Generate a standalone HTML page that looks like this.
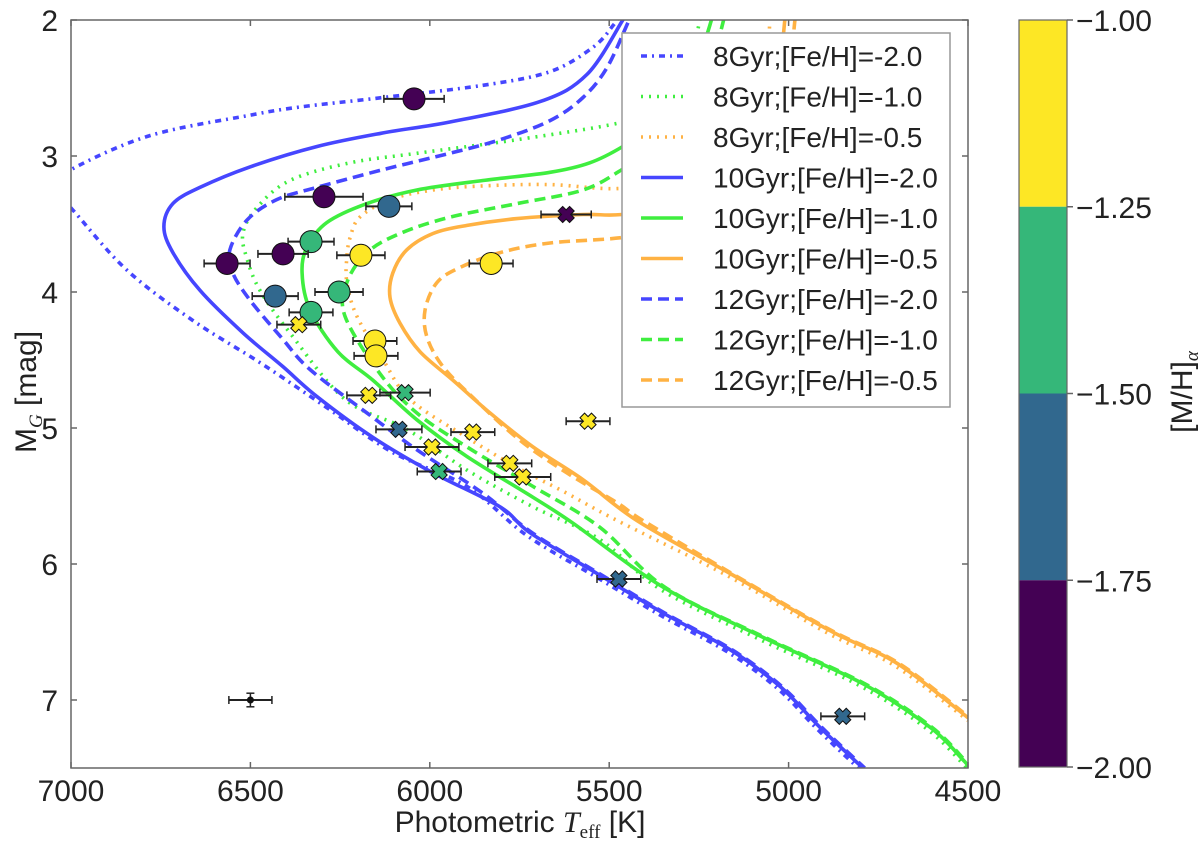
<!DOCTYPE html>
<html><head><meta charset="utf-8"><style>
html,body{margin:0;padding:0;background:#fff;}
svg text{font-family:"Liberation Sans",sans-serif;fill:#222;}
</style></head><body>
<svg id="chart" width="1200" height="849" viewBox="0 0 1200 849" xmlns="http://www.w3.org/2000/svg">
<defs><clipPath id="plotclip"><rect x="71" y="20" width="897" height="748"/></clipPath></defs>
<rect x="0" y="0" width="1200" height="849" fill="#fff"/>
<g id="curves" clip-path="url(#plotclip)"></g>
<g id="points"></g>
<rect x="71" y="20" width="897" height="748" fill="none" stroke="#666" stroke-width="1.5"/>
<g id="xticks"></g>
<g id="yticks"></g>
<text x="520" y="832" font-size="30" text-anchor="middle">Photometric <tspan font-family="Liberation Serif" font-style="italic">T</tspan><tspan font-family="Liberation Serif" font-size="19" dy="6">eff</tspan><tspan dy="-6"> [K]</tspan></text>
<text transform="translate(36,392) rotate(-90)" font-size="30" text-anchor="middle">M<tspan font-family="Liberation Serif" font-style="italic" font-size="19" dy="6">G</tspan><tspan dy="-6"> [mag]</tspan></text>
<g id="legend">
<rect x="622" y="33" width="328" height="374" fill="#fff" stroke="#999" stroke-width="1.5"/>
</g>
<g id="colorbar"></g>
<text transform="translate(1192,392) rotate(-90)" font-size="30" text-anchor="middle">[M/H]<tspan font-family="Liberation Serif" font-style="italic" font-size="19" dy="6">α</tspan></text>
</svg>
<script>
const xTicks=[7000,6500,6000,5500,5000,4500];
const yTicks=[2,3,4,5,6,7];
const cbTicks=[-1.00,-1.25,-1.50,-1.75,-2.00];
const cbColors=['#fde725','#35b779','#31688e','#440154'];
const isoNames=['8Gyr;[Fe/H]=-2.0','8Gyr;[Fe/H]=-1.0','8Gyr;[Fe/H]=-0.5','10Gyr;[Fe/H]=-2.0','10Gyr;[Fe/H]=-1.0','10Gyr;[Fe/H]=-0.5','12Gyr;[Fe/H]=-2.0','12Gyr;[Fe/H]=-1.0','12Gyr;[Fe/H]=-0.5'];
const isoColors=['#4646ff','#3fee3f','#ffb243','#4646ff','#3fee3f','#ffb243','#4646ff','#3fee3f','#ffb243'];
const isoDash=['6,5,2,5','2,6','2,6','none','none','none','11,6','11,6','11,6'];
// Teff arrays
const t8m20=[7100,7000,6780,6501,6362,6130,5852,5665,5545,5489,5470];
const m8m20=[3.30,3.10,2.85,2.70,2.64,2.57,2.48,2.38,2.20,2.04,1.96];
const t8m20b=[7100,6994,6844,6660,6473,6287,6103,5896,5730,5540,5355,5168,5029,4918,4798];
const m8m20b=[3.08,3.40,3.84,4.21,4.52,4.85,5.18,5.43,5.79,6.09,6.38,6.65,6.92,7.22,7.52];
const t8m10=[5247,5261,5303,5386,5478,5757,6036,6222,6390,6482,6521,6509,6473,6390,6236,6064,5896,5712,5526,5355,5076,4798,4611,4500];
const m8m10=[1.99,2.15,2.44,2.66,2.76,2.88,2.98,3.05,3.18,3.38,3.57,3.76,3.99,4.30,4.79,5.01,5.31,5.58,5.82,6.19,6.56,6.90,7.22,7.51];
const t8m05=[5052,5066,5135,5275,5478,5665,5852,5991,6111,6195,6222,6231,6231,6203,6130,6055,5896,5757,5618,5478,5168,4890,4703,4500];
const m8m05=[1.99,2.37,2.88,3.18,3.24,3.21,3.22,3.25,3.32,3.45,3.60,3.74,3.93,4.18,4.50,4.79,5.07,5.29,5.48,5.68,6.09,6.51,6.75,7.15];
const t10m20=[5462,5562,5693,5944,6130,6314,6501,6640,6716,6741,6716,6640,6521,6409,6314,6158,5991,5804,5721,5534,5350,5163,5024,4913,4793];
const m10m20=[2.00,2.40,2.60,2.75,2.83,2.93,3.08,3.23,3.35,3.52,3.71,3.99,4.30,4.55,4.77,5.07,5.33,5.58,5.77,6.07,6.36,6.63,6.90,7.20,7.50];
const t10m10=[5214,5233,5275,5358,5462,5554,5665,5852,6036,6175,6287,6342,6356,6334,6256,6158,6036,5896,5712,5601,5350,5071,4793,4606,4514,4500];
const m10m10=[1.99,2.15,2.44,2.74,2.93,3.05,3.12,3.18,3.25,3.35,3.49,3.67,3.86,4.13,4.44,4.65,4.94,5.21,5.51,5.70,6.17,6.54,6.88,7.20,7.44,7.49];
const t10m05=[5010,5038,5108,5247,5464,5573,5757,5896,5991,6064,6103,6111,6083,6027,5935,5832,5712,5573,5423,5163,4885,4698,4500];
const m10m05=[1.99,2.59,3.10,3.36,3.43,3.43,3.46,3.51,3.57,3.69,3.86,4.04,4.23,4.44,4.65,4.89,5.14,5.38,5.68,6.07,6.49,6.73,7.13];
const t12m20=[5448,5506,5573,5665,5804,5944,6130,6314,6426,6509,6557,6549,6501,6409,6334,6175,6036,5852,5715,5528,5345,5158,5019,4908,4788];
const m12m20=[2.02,2.35,2.57,2.74,2.88,2.98,3.10,3.23,3.32,3.47,3.69,3.86,4.06,4.35,4.57,4.89,5.16,5.48,5.77,6.07,6.36,6.63,6.90,7.20,7.50];
const t12m10=[5180,5205,5261,5358,5464,5573,5757,5944,6083,6175,6231,6236,6139,6036,5896,5712,5526,5345,5066,4788,4601,4500];
const m12m10=[1.99,2.22,2.59,2.92,3.10,3.25,3.35,3.45,3.57,3.71,3.93,4.18,4.60,4.89,5.14,5.43,5.73,6.17,6.54,6.88,7.20,7.47];
const t12m05=[4982,5010,5080,5247,5464,5665,5804,5916,5980,6013,6008,5963,5874,5749,5618,5478,5406,5158,4880,4693,4500];
const m12m05=[1.99,2.59,3.18,3.51,3.60,3.64,3.71,3.82,3.93,4.13,4.33,4.55,4.79,5.09,5.33,5.55,5.68,6.07,6.49,6.73,7.12];
// stars
const circT=[6044,6295,6114,6331,6409,6565,6192,5829,6431,6253,6331,6153,6150];
const circM=[2.58,3.30,3.37,3.63,3.72,3.79,3.73,3.79,4.03,4.00,4.15,4.36,4.47];
const circErr=[84,109,64,64,70,64,67,61,64,67,61,61,61];
const circMH=[-1.9,-1.9,-1.6,-1.4,-1.9,-1.9,-1.1,-1.1,-1.6,-1.4,-1.4,-1.1,-1.1];
const crossT=[5620,6365,6170,6069,6086,5880,5994,5974,5777,5741,5559,5473,4849];
const crossM=[3.43,4.24,4.76,4.74,5.01,5.03,5.14,5.32,5.26,5.36,4.95,6.11,7.12];
const crossErr=[70,61,61,70,64,61,75,61,61,78,61,61,61];
const crossMH=[-1.9,-1.1,-1.1,-1.4,-1.6,-1.1,-1.1,-1.4,-1.1,-1.1,-1.1,-1.6,-1.6];
const refT=[6500], refM=[7.0], refTerr=[60], refMerr=[0.05];

const NS='http://www.w3.org/2000/svg';
const X=t=>71+(7000-t)/2500*897;
const Y=m=>20+(m-2)/5.5*748;
const CBY=v=>20+(-1-v)/1.0*747;
function mk(tag,attrs,parent){const e=document.createElementNS(NS,tag);for(const k in attrs)e.setAttribute(k,attrs[k]);parent.appendChild(e);return e;}
function color(mh){if(mh>=-1.25)return cbColors[0];if(mh>=-1.5)return cbColors[1];if(mh>=-1.75)return cbColors[2];return cbColors[3];}
function smooth(P){
  let d='M'+P[0][0].toFixed(1)+','+P[0][1].toFixed(1);
  for(let i=0;i<P.length-1;i++){
    const p0=P[i-1]||P[i],p1=P[i],p2=P[i+1],p3=P[i+2]||P[i+1];
    const c1=[p1[0]+(p2[0]-p0[0])/6,p1[1]+(p2[1]-p0[1])/6];
    const c2=[p2[0]-(p3[0]-p1[0])/6,p2[1]-(p3[1]-p1[1])/6];
    d+=' C'+c1[0].toFixed(1)+','+c1[1].toFixed(1)+' '+c2[0].toFixed(1)+','+c2[1].toFixed(1)+' '+p2[0].toFixed(1)+','+p2[1].toFixed(1);
  }
  return d;
}

const curves=document.getElementById('curves');
const series=[[[t8m20,m8m20],[t8m20b,m8m20b]],[[t8m10,m8m10]],[[t8m05,m8m05]],[[t10m20,m10m20]],[[t10m10,m10m10]],[[t10m05,m10m05]],[[t12m20,m12m20]],[[t12m10,m12m10]],[[t12m05,m12m05]]];
const order=[2,5,8,1,4,7,0,3,6];
order.forEach(i=>{series[i].forEach(([ts,ms])=>{
  const P=ts.map((t,j)=>[X(t),Y(ms[j])]);
  const p=mk('path',{d:smooth(P),fill:'none',stroke:isoColors[i],'stroke-width':3.6,'stroke-linejoin':'round','stroke-linecap':isoDash[i]==='none'?'round':'butt','stroke-dasharray':isoDash[i]},curves);
  
  
});});

const pts=document.getElementById('points');
function errbar(t,m,e,ye){
  const g=mk('g',{stroke:'#222','stroke-width':2},pts);
  
  
  const x1=X(t+e),x2=X(t-e),y=Y(m);
  mk('line',{x1:x1,y1:y,x2:x2,y2:y},g);
  mk('line',{x1:x1,y1:y-4,x2:x1,y2:y+4,'stroke-width':1.5},g);
  mk('line',{x1:x2,y1:y-4,x2:x2,y2:y+4,'stroke-width':1.5},g);
  if(ye){const x=X(t),ya=Y(m-ye),yb=Y(m+ye);mk('line',{x1:x,y1:ya,x2:x,y2:yb,'stroke-width':1.5},g);mk('line',{x1:x-4,y1:ya,x2:x+4,y2:ya,'stroke-width':1.5},g);mk('line',{x1:x-4,y1:yb,x2:x+4,y2:yb,'stroke-width':1.5},g);}
}
circT.forEach((t,i)=>{
  errbar(t,circM[i],circErr[i]);
  const c=mk('circle',{cx:X(t),cy:Y(circM[i]),r:11,fill:color(circMH[i]),stroke:'#111','stroke-width':1},pts);
  
  
});
const xs='M-3,-7 L0,-4 L3,-7 L7,-3 L4,0 L7,3 L3,7 L0,4 L-3,7 L-7,3 L-4,0 L-7,-3 Z';
crossT.forEach((t,i)=>{
  errbar(t,crossM[i],crossErr[i]);
  const p=mk('path',{d:xs,transform:'translate('+X(t)+','+Y(crossM[i])+') scale(1.15)',fill:color(crossMH[i]),stroke:'#111','stroke-width':0.9},pts);
  
  
});
refT.forEach((t,i)=>{
  errbar(t,refM[i],refTerr[i],refMerr[i]);
  const c=mk('circle',{cx:X(t),cy:Y(refM[i]),r:3.5,fill:'#111'},pts);
  
  
});

const xt=document.getElementById('xticks');
xTicks.forEach(v=>{
  mk('line',{x1:X(v),y1:768,x2:X(v),y2:762,stroke:'#666','stroke-width':1.5},xt);
  mk('line',{x1:X(v),y1:20,x2:X(v),y2:26,stroke:'#666','stroke-width':1.5},xt);
  const t=mk('text',{x:X(v),y:801,'font-size':30,'text-anchor':'middle'},xt);
  t.textContent=v;
  
  
});
const yt=document.getElementById('yticks');
yTicks.forEach(v=>{
  mk('line',{x1:71,y1:Y(v),x2:77,y2:Y(v),stroke:'#666','stroke-width':1.5},yt);
  mk('line',{x1:968,y1:Y(v),x2:962,y2:Y(v),stroke:'#666','stroke-width':1.5},yt);
  const t=mk('text',{x:58,y:Y(v)+11,'font-size':30,'text-anchor':'end'},yt);
  t.textContent=v;
  
  
});

const lg=document.getElementById('legend');
isoNames.forEach((n,i)=>{
  const y=56+i*40.5;
  const l=mk('line',{x1:641,y1:y,x2:683,y2:y,stroke:isoColors[i],'stroke-width':3.6,'stroke-dasharray':isoDash[i]},lg);
  
  
  const t=mk('text',{x:713,y:y+10,'font-size':28},lg);
  t.textContent=n;
  
  
});

const cb=document.getElementById('colorbar');
cbColors.forEach((c,i)=>{
  const r=mk('rect',{x:1019,y:CBY(cbTicks[i]),width:48,height:CBY(cbTicks[i+1])-CBY(cbTicks[i]),fill:c},cb);
  
  
});
mk('rect',{x:1019,y:20,width:48,height:747,fill:'none',stroke:'#666','stroke-width':1.2},cb);
cbTicks.forEach(v=>{
  mk('line',{x1:1067,y1:CBY(v),x2:1073,y2:CBY(v),stroke:'#666','stroke-width':1.5},cb);
  const t=mk('text',{x:1076,y:CBY(v)+11,'font-size':30},cb);
  t.textContent='\u2212'+Math.abs(v).toFixed(2);
  
  
});
</script>
</body></html>
